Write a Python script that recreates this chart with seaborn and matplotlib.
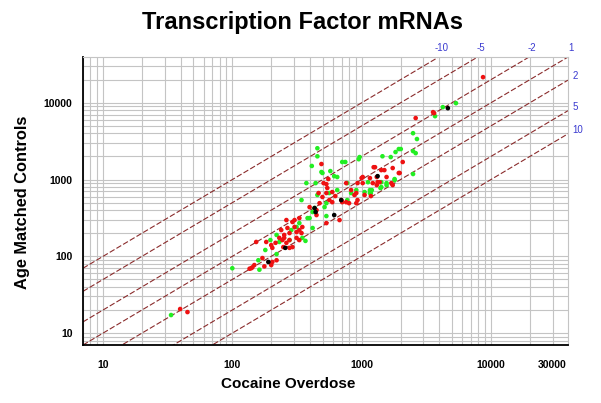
import numpy as np
import pandas as pd
import seaborn as sns
import matplotlib.pyplot as plt
from matplotlib.ticker import LogLocator, NullFormatter, FixedLocator, FixedFormatter

# --- data (Cocaine Overdose vs Age Matched Controls) ---
green_x = [33.6, 100, 455, 455, 412, 498, 573, 614, 648, 374, 441, 708, 748, 965, 950,
           1450, 1680, 1830, 1940, 2500, 2680, 2620, 2500, 1800, 1560, 1420, 1160, 1180,
           1055, 455, 343, 433, 418, 517, 534, 382, 330, 314, 418, 286, 277, 368, 197,
           180, 220, 159, 162, 220, 231, 3700, 4250, 5370, 2010, 2500, 1200, 1400, 1560,
           1420, 1800, 1160, 910, 774, 489, 563, 648, 830, 348, 396, 534, 774, 1120]
green_y = [17.2, 70, 2560, 2010, 1505, 1218, 1290, 1108, 1080, 900, 900, 1695, 1695, 1965, 1842,
           2013, 1965, 2285, 2500, 4020, 3375, 2210, 1182, 1016, 848, 799, 730, 668,
           688, 630, 541, 426, 378, 438, 335, 315, 271, 241, 234, 220, 163, 159, 163,
           121, 107, 89, 67, 190, 154, 6700, 8790, 9900, 2500, 2350, 730, 776, 900,
           925, 983, 668, 730, 900, 1255, 668, 730, 668, 174, 315, 493, 541, 925]

red_x = [39.5, 45, 143, 140, 148, 136, 200, 220, 204, 177, 153, 171, 183, 200, 204, 216,
         231, 244, 262, 277, 292, 314, 252, 252, 239, 267, 277, 303, 314, 330, 343, 348,
         330, 292, 303, 262, 396, 448, 473, 465, 498, 534, 563, 593, 626, 696, 760, 800,
         910, 489, 553, 534, 543, 760, 830, 880, 930, 910, 1020, 1020, 1055, 1160, 1220,
         1310, 1330, 1420, 1500, 1560, 1700, 1970, 2080, 1240, 1740, 1940, 1310, 1740,
         1180, 2620, 3570, 3640, 8700, 1380, 508, 593, 708, 930, 1000, 1270, 534, 675,
         330, 448, 248, 277]
red_y = [20.6, 18.8, 72, 70, 77, 69, 77, 89, 84.5, 74, 154, 95, 154, 140, 129, 150,
         174, 163, 150, 129, 132, 174, 174, 190, 220, 234, 201, 241, 207, 220, 201, 241,
         315, 280, 297, 297, 438, 400, 493, 668, 593, 668, 541, 688, 610, 541, 508, 493,
         493, 1595, 1016, 873, 776, 900, 730, 630, 541, 668, 1080, 900, 630, 1046, 900,
         1080, 925, 1328, 1328, 1080, 900, 1218, 1695, 1450, 1413, 1218, 848, 848,
         610, 6330, 7560, 7330, 21600, 925, 900, 508, 508, 900, 1046, 1450, 271, 297,
         163, 345, 132, 163]

black_x = [433, 441, 614, 696, 1330, 257, 190, 4650]
black_y = [426, 378, 345, 541, 1108, 129, 84.5, 8520]

folds = [10, 5, 2, 1, 0.5, 0.2, 0.1]
fold_labels = ['-10', '-5', '-2', '1', '2', '5', '10']

x_ticks = [10, 100, 1000, 10000, 30000]
x_ticklabels = ['10', '100', '1000', '10000', '30000']
y_ticks = [10, 100, 1000, 10000]
y_ticklabels = ['10', '100', '1000', '10000']

df = pd.concat([
    pd.DataFrame({'x': green_x, 'y': green_y, 'grp': 'green'}),
    pd.DataFrame({'x': red_x, 'y': red_y, 'grp': 'red'}),
    pd.DataFrame({'x': black_x, 'y': black_y, 'grp': 'black'}),
])

sns.set_style('white')
plt.rcParams['font.family'] = ['Liberation Sans', 'DejaVu Sans']
plt.rcParams['text.color'] = 'black'
plt.rcParams['axes.labelcolor'] = 'black'
plt.rcParams['xtick.color'] = 'black'
plt.rcParams['ytick.color'] = 'black'

fig = plt.figure(figsize=(6.01, 4.03), dpi=100)
ax = fig.add_axes([0.1381, 0.1439, 0.807, 0.7146])
ax.set_xscale('log')
ax.set_yscale('log')
lo, hi = 7, 39500
ax.set_xlim(lo, hi)
ax.set_ylim(lo, hi)

# grid
ax.grid(True, which='both', color='#c4c4c4', linewidth=0.8)
ax.set_axisbelow(True)

# fold-change lines
xs = np.array([lo, hi])
for f in folds:
    ax.plot(xs, xs * f, color='#8a2b2b', linewidth=0.8, linestyle=(0, (5, 2)), zorder=2)

sns.scatterplot(data=df, x='x', y='y', hue='grp',
                palette={'green': '#22ee22', 'red': '#ee1111', 'black': '#000000'},
                s=11, linewidth=0, legend=False, ax=ax, zorder=3)

# fold labels at the line ends
for lab, f in zip(fold_labels, folds):
    if f >= 1:
        ax.annotate(lab, (hi / f, hi), xytext=(2, 3), textcoords='offset points',
                    color='#3a3ad0', fontsize=7, ha='center', va='bottom',
                    annotation_clip=False)
    else:
        ax.annotate(lab, (hi, hi * f), xytext=(3, 3), textcoords='offset points',
                    color='#3a3ad0', fontsize=7, ha='left', va='center',
                    annotation_clip=False)

# ticks
ax.xaxis.set_major_locator(FixedLocator(x_ticks))
ax.xaxis.set_major_formatter(FixedFormatter(x_ticklabels))
ax.yaxis.set_major_locator(FixedLocator(y_ticks))
ax.yaxis.set_major_formatter(FixedFormatter(y_ticklabels))
ax.xaxis.set_minor_locator(LogLocator(base=10, subs=np.arange(2, 10), numticks=20))
ax.yaxis.set_minor_locator(LogLocator(base=10, subs=np.arange(2, 10), numticks=20))
ax.xaxis.set_minor_formatter(NullFormatter())
ax.yaxis.set_minor_formatter(NullFormatter())
ax.tick_params(axis='x', which='major', direction='out', length=5, width=1, labelsize=7.5, pad=6)
ax.tick_params(axis='x', which='minor', direction='out', length=3, width=0.8)
ax.tick_params(axis='y', which='major', direction='inout', length=8, width=1, labelsize=7.5)
ax.tick_params(axis='y', which='minor', direction='inout', length=5, width=0.8)
for t in ax.get_xticklabels() + ax.get_yticklabels():
    t.set_fontweight('bold')

for s in ['left', 'bottom']:
    ax.spines[s].set_color('black')
    ax.spines[s].set_linewidth(1.3)
for s in ['top', 'right']:
    ax.spines[s].set_color('#c4c4c4')
    ax.spines[s].set_linewidth(0.8)

ax.set_xlabel('Cocaine Overdose', fontsize=11, fontweight='bold')
ax.set_ylabel('Age Matched Controls', fontsize=11.8, fontweight='bold')
ax.xaxis.set_label_coords(0.423, -0.11)
ax.yaxis.set_label_coords(-0.11, 0.495)
fig.text(0.504, 0.945, 'Transcription Factor mRNAs', fontsize=17, fontweight='bold',
         ha='center', va='center')

fig.savefig('out.png', dpi=100)
